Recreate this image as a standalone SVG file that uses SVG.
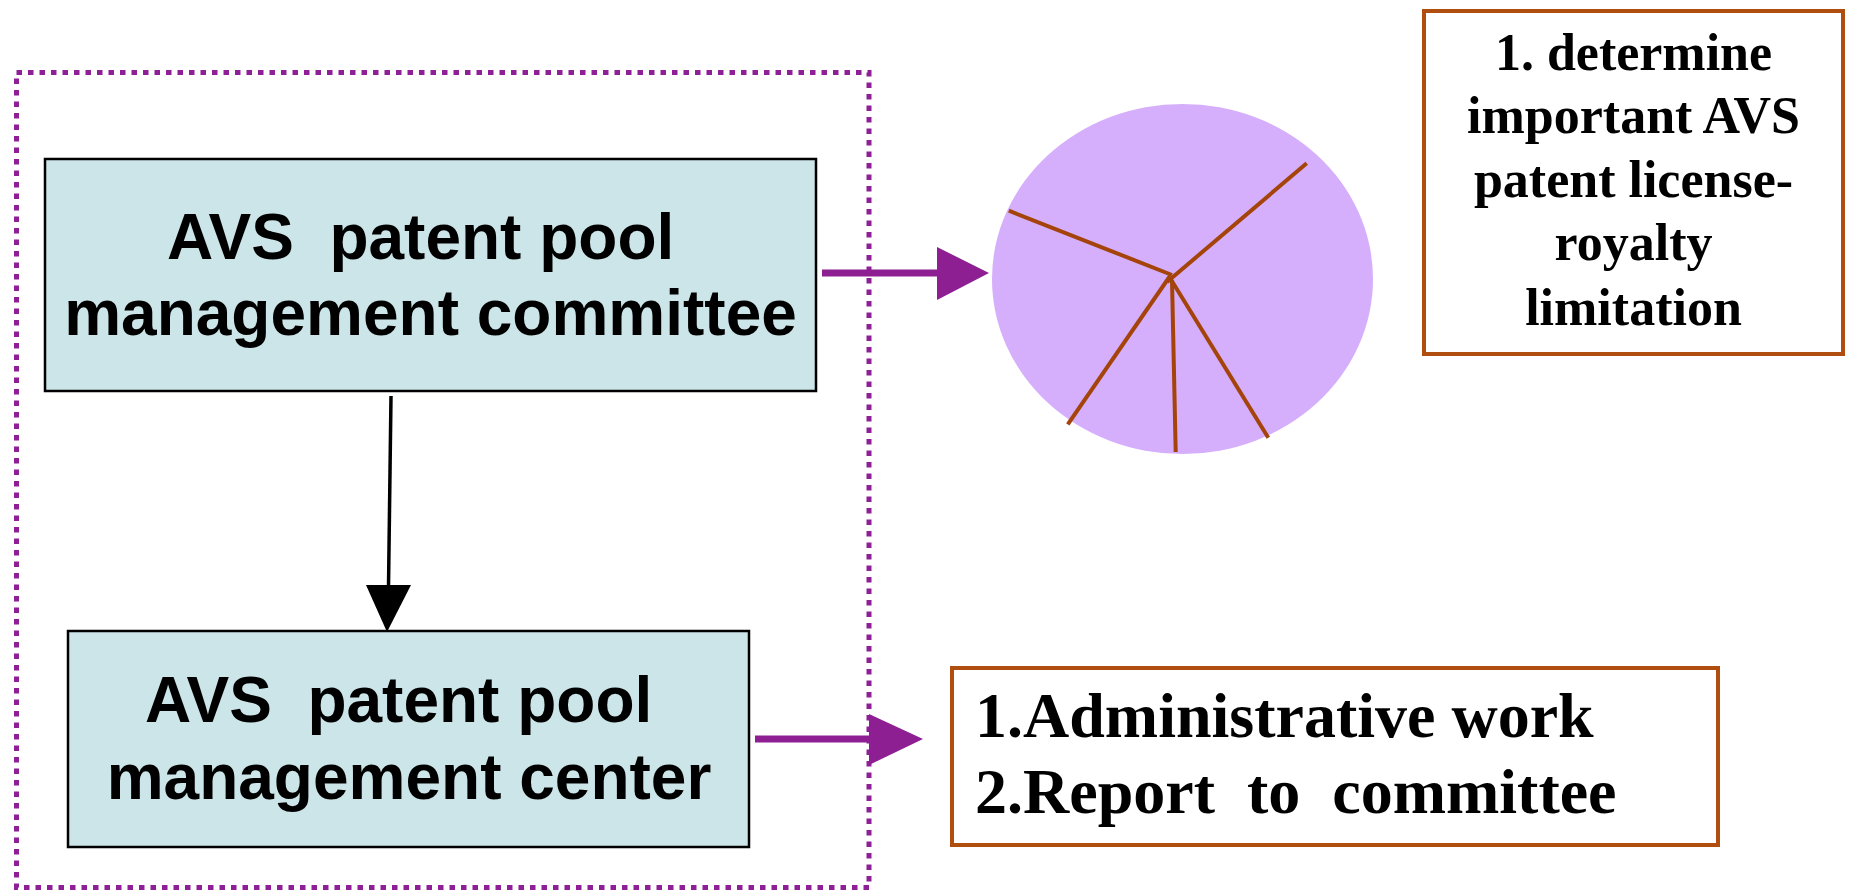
<svg xmlns="http://www.w3.org/2000/svg" width="1849" height="890" viewBox="0 0 1849 890">
<style>
.node{fill:#CCE5E8;stroke:#000;stroke-width:2.5}
.sans{font-family:"Liberation Sans",Arial,sans-serif;font-weight:bold;font-size:64px;fill:#000}
.serif{font-family:"Liberation Serif","Times New Roman",serif;font-weight:bold;fill:#000}
.brownbox{fill:#fff;stroke:#B04E10;stroke-width:4}
.spoke{stroke:#A4440A;stroke-width:4;fill:none}
.purp{stroke:#8E1F93;stroke-width:7;fill:none}
</style>
<rect width="1849" height="890" fill="#fff"/>
<rect id="group-boundary" x="16.5" y="72.5" width="852.5" height="815" fill="none" stroke="#8E1F96" stroke-width="5" stroke-dasharray="5.5 6"/>
<g id="committee">
<rect class="node" x="45" y="159" width="771" height="232"/>
<text class="sans" x="167" y="259" xml:space="preserve">AVS  patent pool</text>
<text class="sans" x="430.5" y="335" text-anchor="middle">management committee</text>
</g>
<g id="center">
<rect class="node" x="68" y="631" width="681" height="216"/>
<text class="sans" x="145" y="722" xml:space="preserve">AVS  patent pool</text>
<text class="sans" x="409" y="799" text-anchor="middle">management center</text>
</g>
<g id="pie">
<ellipse cx="1182.5" cy="279" rx="190.5" ry="175" fill="#D6AFFC"/>
<line class="spoke" x1="1008.8" y1="210.7" x2="1172" y2="275"/>
<line class="spoke" x1="1306.7" y1="163.3" x2="1167" y2="282"/>
<line class="spoke" x1="1170" y1="276" x2="1067.8" y2="424.3"/>
<line class="spoke" x1="1172" y1="280" x2="1175.7" y2="452"/>
<line class="spoke" x1="1170" y1="278" x2="1268.3" y2="437.7"/>
</g>
<g id="determine">
<rect class="brownbox" x="1424" y="11" width="419" height="343"/>
<g class="serif" font-size="52" text-anchor="middle">
<text x="1633.5" y="70">1. determine</text>
<text x="1633.5" y="133">important AVS</text>
<text x="1633.5" y="197">patent license-</text>
<text x="1633.5" y="260">royalty</text>
<text x="1633.5" y="325">limitation</text>
</g>
</g>
<g id="tasks">
<rect class="brownbox" x="952" y="668" width="766" height="177"/>
<g class="serif" font-size="64">
<text x="975" y="737">1.Administrative work</text>
<text x="975" y="813" xml:space="preserve">2.Report  to  committee</text>
</g>
</g>
<g id="connectors">
<line x1="391" y1="396" x2="388.5" y2="587" stroke="#000" stroke-width="3.5"/>
<polygon points="366,585 411,585 387,632" fill="#000"/>
<line class="purp" x1="822" y1="273" x2="940" y2="273"/>
<polygon points="937,247 937,300 989,273" fill="#8E1F93"/>
<line class="purp" x1="755" y1="739" x2="872" y2="739"/>
<polygon points="869,714 869,765 923,739" fill="#8E1F93"/>
</g>
</svg>
